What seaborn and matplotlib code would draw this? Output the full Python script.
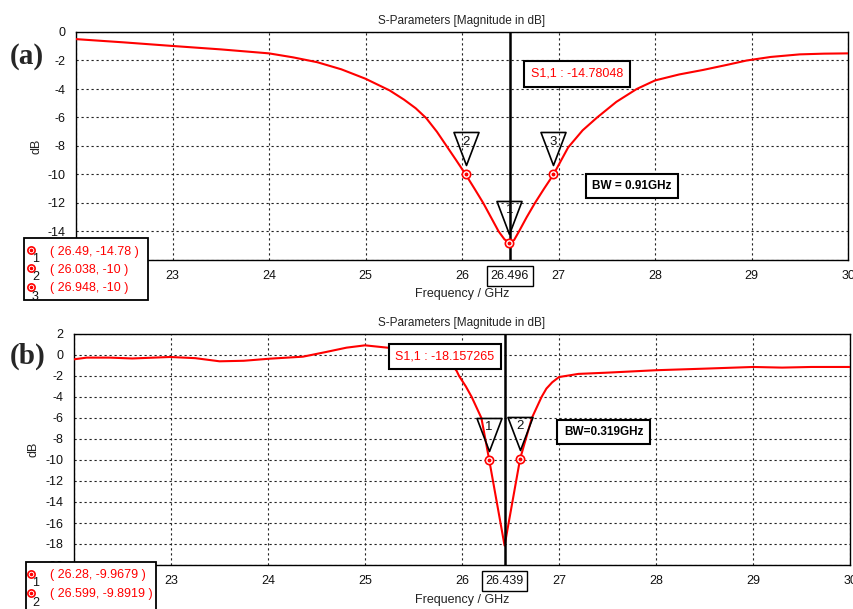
import numpy as np
import pandas as pd
import matplotlib
matplotlib.use("Agg")
import matplotlib.pyplot as plt
import seaborn as sns
from matplotlib.patches import Rectangle
from matplotlib.lines import Line2D
from matplotlib.path import Path

sns.set_style("white")
plt.rcParams['font.family'] = ['Liberation Sans', 'DejaVu Sans']
plt.rcParams['axes.unicode_minus'] = False

# ---- panel (a) data ----
freq_a = [22.0, 22.5, 23.0, 23.5, 24.0, 24.25, 24.5, 24.75, 25.0, 25.25, 25.4, 25.52,
          25.63, 25.74, 25.84, 25.94, 26.038, 26.13, 26.22, 26.30, 26.38, 26.44, 26.49,
          26.54, 26.59, 26.67, 26.756, 26.85, 26.948, 27.02, 27.1, 27.25, 27.4, 27.6,
          27.81, 28.0, 28.25, 28.5, 28.75, 28.95, 29.2, 29.5, 29.75, 30.0]
s11_a = [-0.50, -0.73, -0.98, -1.22, -1.50, -1.78, -2.12, -2.62, -3.28, -4.10, -4.75, -5.35,
         -6.05, -7.0, -8.0, -9.0, -10.0, -11.0, -12.0, -13.0, -14.0, -14.55, -14.78,
         -14.6, -14.0, -13.0, -12.0, -11.0, -10.0, -9.1, -8.1, -6.9, -6.0, -4.9,
         -4.0, -3.4, -2.98, -2.66, -2.3, -2.0, -1.75, -1.57, -1.52, -1.50]
mk_a_f = [26.49, 26.038, 26.948]
mk_a_db = [-14.78, -10.0, -10.0]
mk_a_id = ['1', '2', '3']
mk_a_txt = ['( 26.49, -14.78 )', '( 26.038, -10 )', '( 26.948, -10 )']
cursor_a = 26.496
s11_txt_a = 'S1,1 : -14.78048'
bw_txt_a = 'BW = 0.91GHz'

# ---- panel (b) data ----
freq_b = [22.0, 22.13, 22.37, 22.6, 22.99, 23.25, 23.5, 23.75, 24.02, 24.36, 24.6, 24.81,
          25.0, 25.26, 25.5, 25.75, 25.9, 25.945, 25.97, 26.04, 26.10, 26.15, 26.20,
          26.28, 26.439, 26.599, 26.72, 26.82, 26.87, 26.93, 27.0, 27.2, 27.5, 28.0,
          28.5, 29.0, 29.3, 29.6, 30.0]
s11_b = [-0.41, -0.25, -0.25, -0.33, -0.19, -0.30, -0.60, -0.55, -0.35, -0.16, 0.29, 0.70,
         0.92, 0.67, 0.30, -0.20, -1.0, -1.52, -2.0, -3.0, -4.0, -5.0, -6.0,
         -9.9679, -18.157, -9.8919, -6.0, -4.0, -3.2, -2.6, -2.1, -1.8, -1.68, -1.45,
         -1.30, -1.14, -1.20, -1.14, -1.14]
mk_b_f = [26.28, 26.599]
mk_b_db = [-9.9679, -9.8919]
mk_b_id = ['1', '2']
mk_b_txt = ['( 26.28, -9.9679 )', '( 26.599, -9.8919 )']
cursor_b = 26.439
s11_txt_b = 'S1,1 : -18.157265'
bw_txt_b = 'BW=0.319GHz'

W, H = 854, 609
fig = plt.figure(figsize=(W / 100, H / 100), dpi=100)


def fx(px):
    return px / W


def fy(py):
    return 1 - py / H


# inverted triangle marker sitting above the point (units ~ pixels)
tri = Path([(-12.5, 42), (12.5, 42), (0, 9), (-12.5, 42)],
           [Path.MOVETO, Path.LINETO, Path.LINETO, Path.CLOSEPOLY])


def panel(box, freq, s11, ylim, mk_f, mk_db, mk_id, cursor):
    l, t, r, b = box
    ax = fig.add_axes([fx(l), fy(b), fx(r) - fx(l), fy(t) - fy(b)])
    df = pd.DataFrame({'f': freq, 's': s11})
    sns.lineplot(data=df, x='f', y='s', ax=ax, color='red', lw=1.5, sort=False, zorder=3)
    ax.set_xlim(22, 30)
    ax.set_ylim(*ylim)
    ax.set_xticks(np.arange(22, 31, 1))
    ax.set_yticks(np.arange(ylim[0], ylim[1] + 1, 2))
    ax.grid(True, color='#222222', ls=(0, (2, 2.5)), lw=0.8)
    for sp in ax.spines.values():
        sp.set_visible(True)
        sp.set_color('black')
        sp.set_linewidth(1.0)
    ax.tick_params(direction='out', length=3, width=0.8, color='black',
                   labelsize=9, pad=4.5, labelcolor='#111111')
    ax.set_title('S-Parameters [Magnitude in dB]', fontsize=8.5, pad=6, color='#222222')
    ax.set_xlabel('Frequency / GHz', fontsize=9, color='#222222')
    ax.set_ylabel('dB', fontsize=9, color='#222222')
    ax.xaxis.set_label_coords(0.5, -0.125)
    ax.yaxis.set_label_coords(-0.044, 0.5)

    # cursor line with its frequency box
    ax.axvline(cursor, color='black', lw=1.8, zorder=4)
    ax.annotate(f'{cursor}', xy=(cursor, 0), xycoords=('data', 'axes fraction'),
                xytext=(0, -11.5), textcoords='offset points', ha='center', va='center',
                fontsize=9, color='#111111', annotation_clip=False,
                bbox=dict(boxstyle='square,pad=0.3', fc='white', ec='black', lw=1))

    # markers
    ax.plot(mk_f, mk_db, ls='none', marker=tri, ms=60.5, mfc='none', mec='black',
            mew=1.2, zorder=5)
    ax.plot(mk_f, mk_db, ls='none', marker='o', ms=6, mfc='white', mec='red', mew=1.2, zorder=6)
    ax.plot(mk_f, mk_db, ls='none', marker='o', ms=1.8, color='red', zorder=7)
    for f, d, n in zip(mk_f, mk_db, mk_id):
        ax.annotate(n, xy=(f, d), xytext=(0, 23.5), textcoords='offset points',
                    ha='center', va='center', fontsize=9.5, color='#111111', zorder=8)
    return ax


def legend_box(box, rows):
    l, t, r, b = box
    fig.add_artist(Rectangle((fx(l), fy(b)), fx(r) - fx(l), fy(t) - fy(b),
                             transform=fig.transFigure, fc='white', ec='black', lw=1.3,
                             zorder=10, clip_on=False))
    for sym_y, num, txt in rows:
        fig.add_artist(Line2D([fx(31.5)], [fy(sym_y)], transform=fig.transFigure, marker='o',
                              ms=5.2, mfc='white', mec='red', mew=1.2, zorder=11))
        fig.add_artist(Line2D([fx(31.5)], [fy(sym_y)], transform=fig.transFigure, marker='o',
                              ms=1.6, color='red', zorder=12))
        fig.text(fx(35.5), fy(sym_y + 9.5), num, ha='center', va='center', fontsize=9,
                 color='#111111', zorder=12)
        fig.text(fx(50), fy(sym_y + 1.5), txt, ha='left', va='center', fontsize=9,
                 color='red', zorder=12)


def note(cx, cy, txt, color, weight='normal', size=9):
    fig.text(fx(cx), fy(cy), txt, ha='center', va='center', fontsize=size, color=color,
             fontweight=weight, zorder=9,
             bbox=dict(boxstyle='square,pad=0.55', fc='white', ec='black', lw=1.5))


# ---- panel (a) ----
ax_a = panel((76, 32, 848, 260), freq_a, s11_a, (-16, 0), mk_a_f, mk_a_db, mk_a_id, cursor_a)
note(577, 74, s11_txt_a, 'red')
note(632, 186, bw_txt_a, 'black', 'bold', 8.5)
legend_box((24, 238, 148, 300), [(250, mk_a_id[0], mk_a_txt[0]),
                                 (268, mk_a_id[1], mk_a_txt[1]),
                                 (287, mk_a_id[2], mk_a_txt[2])])
fig.text(fx(27), fy(57), '(a)', fontsize=21, fontweight='bold', ha='center', va='center',
         family=['Liberation Serif', 'DejaVu Serif'])

# ---- panel (b) ----
ax_b = panel((74, 334, 850, 565), freq_b, s11_b, (-20, 2), mk_b_f, mk_b_db, mk_b_id, cursor_b)
note(445, 356.5, s11_txt_b, 'red')
note(603.5, 432, bw_txt_b, 'black', 'bold', 8.5)
legend_box((26, 562, 156, 615), [(573.5, mk_b_id[0], mk_b_txt[0]),
                                 (593, mk_b_id[1], mk_b_txt[1])])
fig.text(fx(27.5), fy(356), '(b)', fontsize=21, fontweight='bold', ha='center', va='center',
         family=['Liberation Serif', 'DejaVu Serif'])

fig.savefig('out.png', dpi=100, facecolor='white')
